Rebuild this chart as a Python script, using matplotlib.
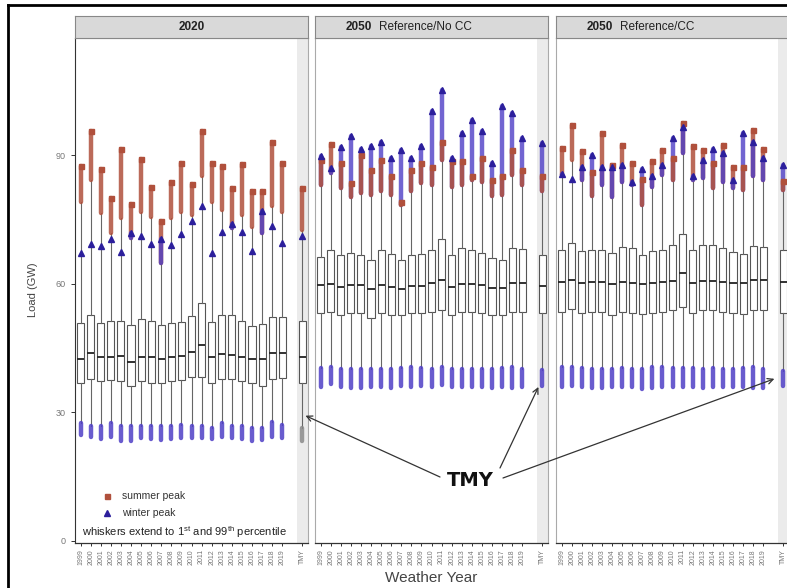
import matplotlib
matplotlib.use("Agg")
import matplotlib.pyplot as plt
from matplotlib.lines import Line2D
from matplotlib.patches import ConnectionPatch

plt.rcParams['font.family'] = ['Liberation Sans', 'DejaVu Sans']
plt.rcParams['mathtext.default'] = 'regular'

# ---- data (GW) ----
years = [str(y) for y in range(1999, 2020)]
tick_labels = years + ["TMY"]
panel_titles = [("2020", ""), ("2050", "Reference/No CC"), ("2050", "Reference/CC")]

# 2020
q3_2020 = [50.9, 52.7, 50.8, 51.4, 51.4, 50.4, 51.7, 51.4, 50.4, 50.9, 51.1, 52.5, 55.6, 51.1, 52.7, 52.7, 51.4, 50.2, 50.5, 52.2, 52.3, 51.4]
med_2020 = [42.4, 43.9, 43.0, 43.0, 43.1, 41.8, 43.0, 43.0, 42.4, 43.0, 43.1, 44.1, 45.7, 42.8, 43.6, 43.4, 42.8, 42.4, 42.4, 43.8, 43.8, 43.0]
q1_2020 = [36.8, 37.8, 37.3, 37.5, 37.2, 36.1, 37.3, 36.9, 36.9, 37.2, 37.5, 38.2, 38.3, 36.8, 37.7, 37.7, 37.2, 36.8, 36.1, 37.7, 37.9, 36.8]
p99_2020 = [79.1, 84.2, 76.4, 71.8, 75.3, 70.6, 76.8, 75.6, 64.8, 75.3, 76.8, 76.0, 85.0, 79.1, 77.2, 72.9, 76.0, 73.3, 71.8, 78.0, 76.8, 72.5]
p1_2020 = [27.6, 26.8, 26.7, 27.6, 26.7, 26.7, 26.7, 26.7, 26.8, 26.7, 27.1, 26.8, 26.7, 26.3, 27.6, 26.8, 26.8, 26.3, 26.4, 27.8, 27.1, 26.3]
min_2020 = [24.7, 24.3, 23.7, 24.3, 23.2, 23.2, 23.9, 23.7, 23.5, 23.7, 23.9, 24.1, 23.9, 23.7, 24.3, 23.9, 23.7, 23.3, 23.5, 24.3, 23.9, 23.3]
summer_2020 = [87.4, 95.5, 86.8, 79.9, 91.3, 78.6, 89.0, 82.6, 74.7, 83.6, 88.1, 83.3, 95.6, 88.2, 87.4, 82.4, 87.9, 81.6, 81.6, 93.0, 88.1, 82.3]
winter_2020 = [67.1, 69.3, 68.8, 70.4, 67.3, 71.8, 71.0, 69.2, 70.4, 69.0, 71.5, 74.6, 78.2, 67.1, 72.0, 73.9, 72.1, 67.6, 77.0, 73.5, 69.4, 71.0]

# 2050 Reference / No CC
q3_nocc = [66.3, 67.9, 66.7, 67.1, 66.7, 65.5, 67.9, 67.0, 65.4, 66.6, 67.0, 67.9, 70.4, 66.6, 68.3, 67.9, 67.1, 65.9, 65.4, 68.3, 68.0, 66.7]
med_nocc = [59.7, 59.9, 59.3, 59.7, 59.7, 58.7, 59.7, 59.3, 58.7, 59.5, 59.5, 60.2, 60.9, 59.3, 59.9, 59.9, 59.7, 58.9, 58.9, 60.2, 60.2, 59.5]
q1_nocc = [53.1, 53.5, 52.7, 53.1, 53.1, 51.9, 53.1, 52.7, 52.7, 53.1, 53.1, 53.5, 53.9, 52.7, 53.5, 53.5, 53.1, 52.7, 52.7, 53.5, 53.5, 53.1]
p99_nocc = [83.0, 85.7, 82.3, 80.3, 81.1, 80.7, 81.5, 80.7, 78.4, 81.5, 83.4, 83.0, 88.8, 82.6, 83.0, 84.2, 83.8, 80.5, 80.7, 85.4, 83.0, 81.5]
p1_nocc = [40.3, 40.5, 40.0, 40.0, 40.0, 40.0, 40.0, 40.0, 40.3, 40.5, 40.3, 40.0, 40.5, 40.0, 40.0, 40.0, 40.0, 40.0, 40.3, 40.5, 40.0, 39.8]
min_nocc = [36.0, 36.5, 35.8, 35.7, 35.7, 35.9, 36.0, 35.7, 36.2, 35.8, 36.2, 36.0, 36.3, 35.9, 36.0, 36.0, 35.8, 35.7, 36.0, 35.7, 35.8, 36.2]
summer_nocc = [88.8, 92.6, 88.1, 83.4, 90.0, 86.5, 88.8, 85.0, 79.1, 86.5, 88.1, 87.3, 93.1, 88.5, 88.5, 85.0, 89.2, 84.2, 85.0, 91.2, 86.5, 85.0]
winter_nocc = [89.8, 87.0, 91.8, 94.5, 91.4, 92.1, 93.0, 89.2, 91.2, 89.2, 92.1, 100.3, 105.2, 89.4, 95.1, 98.2, 95.6, 88.1, 101.5, 99.8, 93.9, 92.9]

# 2050 Reference / CC
q3_cc = [67.9, 69.4, 67.5, 67.9, 67.9, 67.1, 68.6, 68.4, 66.7, 67.5, 67.9, 69.0, 71.6, 67.9, 69.0, 69.0, 68.3, 67.3, 67.0, 68.8, 68.6, 67.9]
med_cc = [60.3, 60.9, 60.1, 60.3, 60.3, 59.9, 60.3, 60.1, 59.9, 60.1, 60.3, 60.5, 62.4, 60.1, 60.5, 60.5, 60.3, 60.1, 60.1, 60.9, 60.9, 60.3]
q1_cc = [53.5, 54.1, 53.2, 53.5, 53.5, 52.7, 53.5, 53.2, 52.9, 53.2, 53.5, 53.9, 54.6, 53.2, 53.9, 53.9, 53.5, 53.2, 52.9, 53.9, 53.9, 53.2]
p99_cc = [85.4, 88.8, 84.2, 80.5, 83.0, 80.3, 83.8, 83.0, 78.4, 82.6, 85.4, 84.2, 90.4, 84.2, 84.6, 82.3, 83.8, 82.3, 81.9, 85.0, 84.2, 81.9]
p1_cc = [40.5, 40.5, 40.3, 40.0, 40.0, 40.0, 40.3, 40.0, 40.0, 40.5, 40.5, 40.3, 40.3, 40.3, 40.0, 40.3, 40.0, 40.0, 40.3, 40.5, 40.0, 39.6]
min_cc = [36.0, 36.2, 35.8, 35.6, 35.7, 35.8, 36.0, 35.9, 35.4, 35.6, 35.8, 36.0, 36.0, 35.9, 35.7, 35.8, 35.9, 35.8, 36.0, 35.6, 35.6, 36.2]
summer_cc = [91.6, 97.0, 90.9, 86.1, 95.1, 87.7, 92.3, 88.1, 84.5, 88.7, 91.2, 89.2, 97.4, 92.0, 91.2, 88.1, 92.3, 87.3, 87.3, 95.8, 91.3, 84.0]
winter_cc = [85.6, 84.3, 87.3, 90.0, 87.1, 87.3, 87.7, 83.8, 86.7, 85.0, 87.7, 93.9, 96.6, 85.1, 88.8, 91.3, 90.4, 84.2, 95.1, 93.1, 89.2, 87.7]

# where the "TMY" arrows land (load, GW) in each panel
tmy_arrow_load = [29.2, 35.9, 37.8]

panels = [
    (q1_2020, med_2020, q3_2020, p1_2020, p99_2020, min_2020, summer_2020, winter_2020),
    (q1_nocc, med_nocc, q3_nocc, p1_nocc, p99_nocc, min_nocc, summer_nocc, winter_nocc),
    (q1_cc, med_cc, q3_cc, p1_cc, p99_cc, min_cc, summer_cc, winter_cc),
]

RED = '#b0503c'
BLUE = '#2c1f9c'
BLUE_DOTS = '#4f3fc6'

W, H = 787, 588
fig = plt.figure(figsize=(W / 100, H / 100), dpi=100)


def frac(x0, y0, w, h):
    return [x0 / W, 1 - (y0 + h) / H, w / W, h / H]


pos = list(range(1, len(years) + 1)) + [len(years) + 2]
tmy_x = pos[-1]
lefts = [75, 315, 556]
pw = 233

axes = []
for k, (q1, med, q3, p1, p99, lo, summer, winter) in enumerate(panels):
    ax = fig.add_axes(frac(lefts[k], 38, pw, 505))
    axes.append(ax)
    ax.set_xlim(0.45, tmy_x + 0.55)
    ax.set_ylim(-0.5, 117.3)
    ax.axvspan(tmy_x - 0.5, tmy_x + 0.6, color='#ebebeb', zorder=0, lw=0)

    stats = []
    for j in range(len(pos)):
        stats.append(dict(med=med[j], q1=q1[j], q3=q3[j], whislo=p1[j], whishi=p99[j], fliers=[]))
    ax.bxp(stats, positions=pos, widths=0.7, showcaps=False, patch_artist=True,
           boxprops=dict(facecolor='white', edgecolor='#555555', lw=0.8),
           whiskerprops=dict(color='#666666', lw=0.8),
           medianprops=dict(color='#222222', lw=1.3), manage_ticks=False)

    for j, x in enumerate(pos):
        # outlier clouds above the 99th percentile, higher peak drawn first
        bands = sorted([(summer[j], RED, 0.85), (winter[j], BLUE_DOTS, 0.8)], reverse=True)
        for peak, col, a in bands:
            if peak > p99[j]:
                ax.plot([x, x], [p99[j], peak], color=col, lw=3.2, alpha=a,
                        solid_capstyle='round', zorder=3)
        low_col = '#8a8a8a' if (k == 0 and j == len(pos) - 1) else BLUE_DOTS
        ax.plot([x, x], [lo[j], p1[j]], color=low_col, lw=3.2, alpha=0.85,
                solid_capstyle='round', zorder=3)
    ax.plot(pos, summer, 's', color=RED, ms=3.6, zorder=4, ls='none')
    ax.plot(pos, winter, '^', color=BLUE, ms=4.6, zorder=5, ls='none')

    ax.set_xticks(pos)
    ax.set_xticklabels(tick_labels, rotation=90, fontsize=5, color='#777777')
    ax.tick_params(axis='x', length=2.5, width=0.7, color='#333333', pad=2)
    for s in ['top', 'right', 'left']:
        ax.spines[s].set_color('#aaaaaa')
        ax.spines[s].set_linewidth(0.8)
    ax.spines['bottom'].set_color('#333333')
    ax.spines['bottom'].set_linewidth(0.9)
    if k == 0:
        ax.set_yticks([0, 30, 60, 90])
        ax.tick_params(axis='y', labelsize=6.5, labelcolor='#777777', length=3, color='#333333', width=0.7)
        ax.spines['left'].set_color('#333333')
    else:
        ax.set_yticks([])

    # facet strip
    sx = fig.add_axes(frac(lefts[k], 16, pw, 22))
    sx.set_facecolor('#d9d9d9')
    sx.set_xticks([])
    sx.set_yticks([])
    for s in sx.spines.values():
        s.set_color('#888888')
        s.set_linewidth(0.8)
    bold, rest = panel_titles[k]
    if rest:
        sx.text(0.245, 0.5, bold, ha='right', va='center', fontsize=8.5, fontweight='bold', color='#222222')
        sx.text(0.275, 0.5, rest, ha='left', va='center', fontsize=8.5, color='#222222')
    else:
        sx.text(0.5, 0.5, bold, ha='center', va='center', fontsize=8.5, fontweight='bold', color='#222222')

# legend inside first panel
ax0 = axes[0]
ax0.plot([0.137], [0.093], 's', color=RED, ms=3.6, transform=ax0.transAxes)
ax0.text(0.2, 0.093, 'summer peak', transform=ax0.transAxes, fontsize=7.5, va='center', color='#333333')
ax0.plot([0.137], [0.059], '^', color=BLUE, ms=4.6, transform=ax0.transAxes)
ax0.text(0.2, 0.059, 'winter peak', transform=ax0.transAxes, fontsize=7.5, va='center', color='#333333')
ax0.text(0.03, 0.022, 'whiskers extend to 1$^{st}$ and 99$^{th}$ percentile', transform=ax0.transAxes,
         fontsize=8, va='center', color='#222222')

# axis titles
fig.text(33 / W, 1 - 290 / H, 'Load (GW)', rotation=90, ha='center', va='center', fontsize=8, color='#444444')
fig.text(431 / W, 1 - 578 / H, 'Weather Year', ha='center', va='center', fontsize=11, color='#444444')

# TMY callout
fig.text(470 / W, 1 - 481 / H, 'TMY', ha='center', va='center', fontsize=14, fontweight='bold',
         family='DejaVu Sans', color='#111111', zorder=5)
starts = [(440, 588 - 477), (500, 588 - 468), (503, 588 - 478)]
tip_dx = [0.3, -0.4, -0.9]
for k, ax in enumerate(axes):
    con = ConnectionPatch(xyA=starts[k], coordsA='figure pixels',
                          xyB=(tmy_x + tip_dx[k], tmy_arrow_load[k]), coordsB=ax.transData,
                          arrowstyle='->', color='#333333', lw=0.9, shrinkA=0, shrinkB=0, zorder=5)
    fig.add_artist(con)

# black frame on left and top
fig.add_artist(Line2D([8 / W, 8 / W], [0, 1 - 5 / H], transform=fig.transFigure, color='black', lw=2))
fig.add_artist(Line2D([8 / W, 1], [1 - 5 / H, 1 - 5 / H], transform=fig.transFigure, color='black', lw=2))

fig.savefig('out.png', dpi=100)
